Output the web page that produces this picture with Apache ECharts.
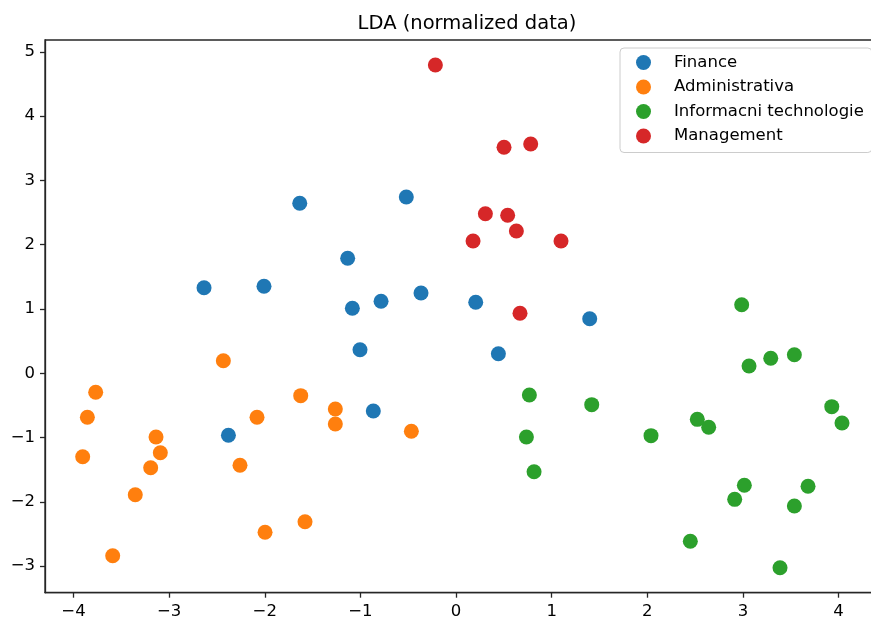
<!DOCTYPE html>
<html>
<head>
<meta charset="utf-8">
<script src="https://cdn.jsdelivr.net/npm/echarts@6/dist/echarts.min.js"></script>
<style>html,body{margin:0;padding:0;background:#fff}#c{width:871px;height:621px}</style>
</head>
<body>
<div id="c"></div>
<script>
const seriesNames = ['Finance', 'Administrativa', 'Informacni technologie', 'Management'];
const colors = ['#1f77b4', '#ff7f0e', '#2ca02c', '#d62728'];

const financeData = [
  [-2.635, 1.331], [-2.008, 1.353], [-1.634, 2.644], [-0.520, 2.742], [-1.133, 1.788],
  [-1.084, 1.011], [-0.784, 1.120], [-0.366, 1.249], [0.206, 1.104], [1.398, 0.849],
  [-2.380, -0.964], [-1.004, 0.367], [0.443, 0.305], [-0.865, -0.586]
];
const adminData = [
  [-2.433, 0.196], [-3.768, -0.295], [-3.855, -0.684], [-3.904, -1.297], [-3.137, -0.991],
  [-3.092, -1.235], [-3.193, -1.468], [-3.354, -1.888], [-3.590, -2.837], [-2.081, -0.684],
  [-2.259, -1.431], [-1.997, -2.473], [-1.624, -0.348], [-1.579, -2.308], [-1.262, -0.555],
  [-1.262, -0.788], [-0.467, -0.902]
];
const itData = [
  [0.767, -0.337], [1.419, -0.488], [0.736, -0.991], [0.816, -1.530], [2.987, 1.067],
  [3.064, 0.114], [3.291, 0.233], [3.538, 0.289], [3.929, -0.519], [4.036, -0.773],
  [2.523, -0.716], [2.642, -0.840], [2.039, -0.970], [3.015, -1.742], [2.914, -1.960],
  [3.681, -1.757], [3.538, -2.064], [2.450, -2.613], [3.388, -3.023]
];
const mgmtData = [
  [-0.216, 4.795], [0.502, 3.515], [0.781, 3.566], [0.307, 2.482], [0.540, 2.457],
  [0.631, 2.213], [0.178, 2.058], [1.098, 2.058], [0.669, 0.933]
];

const xTicks = [-4, -3, -2, -1, 0, 1, 2, 3, 4];
const yTicks = [-3, -2, -1, 0, 1, 2, 3, 4, 5];
const xRange = [-4.298, 4.423];
const yRange = [-3.412, 5.183];

const allData = [financeData, adminData, itData, mgmtData];
const fmt = v => (v < 0 ? '\u2212' + Math.abs(v) : String(v));
const font = 'DejaVu Sans';

const chart = echarts.init(document.getElementById('c'), null, {renderer: 'canvas'});
chart.setOption({
  animation: false,
  backgroundColor: '#ffffff',
  title: {
    text: 'LDA (normalized data)',
    left: 462, top: 9, textAlign: 'center',
    textStyle: {fontFamily: font, fontSize: 19.5, fontWeight: 'normal', color: '#000'}
  },
  grid: {
    left: 45, width: 834, top: 40, height: 552.7,
    containLabel: false, outerBoundsMode: 'none',
    show: true, borderColor: '#262626', borderWidth: 1.3, backgroundColor: 'transparent'
  },
  legend: {
    orient: 'vertical',
    left: 620, top: 48,
    padding: [6, 8, 8, 16],
    itemWidth: 15, itemHeight: 15, itemGap: 7.5,
    icon: 'circle',
    backgroundColor: 'rgba(255,255,255,0.8)',
    borderColor: '#cccccc', borderWidth: 1, borderRadius: 4,
    textStyle: {fontFamily: font, fontSize: 16.5, color: '#000', padding: [0, 0, 0, 18]},
    data: seriesNames
  },
  xAxis: {
    type: 'value', min: xRange[0], max: xRange[1],
    axisLine: {show: true, onZero: false, lineStyle: {color: '#262626', width: 1.3}},
    axisTick: {show: true, length: 5, lineStyle: {color: '#262626', width: 1.3}, customValues: xTicks},
    axisLabel: {show: true, margin: 11, fontFamily: font, fontSize: 16.5, color: '#000', formatter: fmt, customValues: xTicks},
    splitLine: {show: false}
  },
  yAxis: {
    type: 'value', min: yRange[0], max: yRange[1],
    axisLine: {show: true, onZero: false, lineStyle: {color: '#262626', width: 1.3}},
    axisTick: {show: true, length: 5, lineStyle: {color: '#262626', width: 1.3}, customValues: yTicks},
    axisLabel: {show: true, margin: 10, fontFamily: font, fontSize: 16.5, color: '#000', formatter: fmt, customValues: yTicks},
    splitLine: {show: false}
  },
  series: seriesNames.map((name, i) => ({
    name: name,
    type: 'scatter',
    symbol: 'circle',
    symbolSize: 15,
    itemStyle: {color: colors[i], opacity: 1},
    data: allData[i]
  }))
});
</script>
</body>
</html>
